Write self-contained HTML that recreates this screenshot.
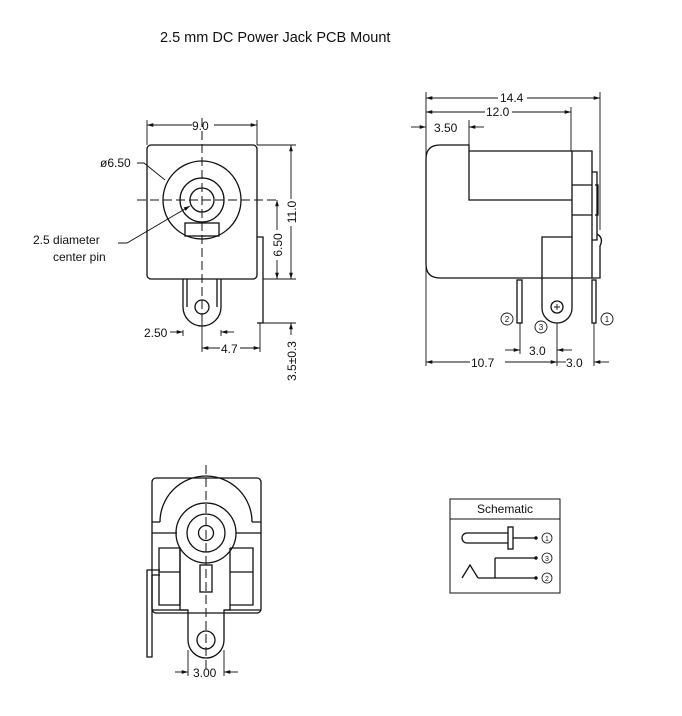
<!DOCTYPE html>
<html><head><meta charset="utf-8"><style>
html,body{margin:0;padding:0;background:#fff;}
svg{display:block;}
text{font-family:"Liberation Sans",sans-serif;fill:#111;}
</style></head><body>
<svg width="682" height="716" viewBox="0 0 682 716" xmlns="http://www.w3.org/2000/svg">
<defs>
<marker id="a" viewBox="0 0 10 10" refX="10" refY="5" markerWidth="7" markerHeight="7" orient="auto-start-reverse"><path d="M0,2 L10,5 L0,8 z" fill="#111"/></marker>
</defs>
<text x="160" y="42" font-size="14.5">2.5 mm DC Power Jack PCB Mount</text>

<g stroke="#111" stroke-width="1.3" fill="none">
<!-- FRONT VIEW -->
<rect x="147" y="145" width="110" height="134" rx="4"/>
<circle cx="202" cy="200" r="39"/>
<circle cx="202" cy="200" r="22"/>
<circle cx="202" cy="200" r="12"/>
<rect x="185" y="223" width="34" height="13"/>
<path d="M257,237 L263,237 L263,323 L257,323"/>
<path d="M183,279 L183,307 A19,19 0 0 0 221,307 L221,279"/>
<path d="M187,279 L187,307 M217,279 L217,307"/>
<circle cx="202" cy="307" r="7"/>
<g stroke-width="1" stroke-dasharray="9,4">
<path d="M137,200 L277,200"/>
<path d="M202,118 L202,322"/>
</g>
<g stroke-width="0.9">
<path d="M147,120 L147,145 M257,120 L257,145"/>
<path d="M147,125 L192,125 M214,125 L257,125" marker-start="url(#a)" marker-end="url(#a)"/>
<path d="M257,145 L296,145 M263,279 L296,279 M263,323 L296,323"/>
<path d="M291,145 L291,199 M291,226 L291,279" marker-start="url(#a)" marker-end="url(#a)"/>
<path d="M277,200 L277,230 M277,260 L277,279" marker-start="url(#a)" marker-end="url(#a)"/>
<path d="M291,335 L291,323" marker-end="url(#a)"/>
<path d="M137,163 L144,163 L165,180"/>
<path d="M118,243 L127,243 L190,206" marker-end="url(#a)"/>
<path d="M183,330 L183,336 M221,330 L221,336 M202,322 L202,352 M260,323 L260,352"/>
<path d="M170,332 L183,332" marker-end="url(#a)"/>
<path d="M234,332 L221,332" marker-end="url(#a)"/>
<path d="M202,348 L220,348 M240,348 L260,348" marker-start="url(#a)" marker-end="url(#a)"/>
</g>

<!-- SIDE VIEW -->
<path d="M440,145 L469,145 L469,200 L572,200 M469,151 L592,151 L592,278 L440,278 Q426,278 426,264 L426,159 Q426,145 440,145"/>
<path d="M572,151 L572,278 M572,185 L592,185 M572,215 L592,215"/>
<path d="M592,172 L597,172 L597,240 L592,240 M595,185 L598,185 L598,215 L595,215"/>
<path d="M597,234 Q604,238 600,246 L600,278 L592,278"/>
<path d="M542,278 L542,237 L572,237 M542,278 L542,308 A15,15 0 0 0 572,308 L572,278"/>
<circle cx="557" cy="307" r="6"/>
<path d="M554,307 L560,307 M557,304 L557,310" stroke-width="0.9"/>
<rect x="517" y="280" width="5" height="43"/>
<rect x="592" y="280" width="4" height="43"/>
<g stroke-width="0.9">
<circle cx="507" cy="319" r="6"/><circle cx="541" cy="327" r="6"/><circle cx="607" cy="319" r="6"/>
<path d="M426,92 L426,366 M600,92 L600,230 M571,107 L571,151 M469,120 L469,145"/>
<path d="M426,98 L498,98 M527,98 L600,98" marker-start="url(#a)" marker-end="url(#a)"/>
<path d="M426,112 L485,112 M512,112 L571,112" marker-start="url(#a)" marker-end="url(#a)"/>
<path d="M411,127 L426,127" marker-end="url(#a)"/>
<path d="M484,127 L469,127" marker-end="url(#a)"/>
<path d="M520,323 L520,354 M557,323 L557,366 M594,323 L594,366"/>
<path d="M505,350 L520,350" marker-end="url(#a)"/>
<path d="M572,350 L557,350" marker-end="url(#a)"/>
<path d="M426,362 L470,362 M505,362 L557,362" marker-start="url(#a)" marker-end="url(#a)"/>
<path d="M557,362 L566,362"/>
<path d="M609,362 L594,362" marker-end="url(#a)"/>
</g>

<!-- BOTTOM VIEW -->
<rect x="152" y="478" width="109" height="135" rx="4"/>
<path d="M160,522 A46,46 0 0 1 252,522"/>
<path d="M152,522 L160,522 M252,522 L261,522 M152,533 L177,533 M236,533 L261,533"/>
<circle cx="206" cy="533" r="30"/>
<circle cx="206" cy="533" r="19"/>
<circle cx="206" cy="533" r="7.5"/>
<path d="M180,548 L180,610 L188,610 L188,640 A18,18 0 0 0 224,640 L224,610 L230,610 L230,548"/>
<path d="M159,548 L180,548 L180,605 L159,605 Z M159,572 L180,572"/>
<path d="M230,548 L253,548 L253,605 L230,605 M230,572 L253,572 M253,548 L253,605"/>
<path d="M152,610 L188,610 M224,610 L261,610"/>
<path d="M160,570 L147,570 L147,657 L152,657 L152,575 L160,575"/>
<circle cx="206" cy="640" r="9"/>
<rect x="200" y="565" width="12" height="27"/>
<path d="M206,465 L206,672" stroke-width="1" stroke-dasharray="9,4"/>
<g stroke-width="0.9">
<path d="M188,650 L188,676 M224,650 L224,676"/>
<path d="M175,672 L188,672" marker-end="url(#a)"/>
<path d="M238,672 L224,672" marker-end="url(#a)"/>
</g>

<!-- SCHEMATIC -->
<rect x="450" y="499" width="110" height="94" stroke-width="1"/>
<path d="M450,519 L560,519" stroke-width="1"/>
<path d="M508,533 L467,533 A5,5 0 0 0 467,543 L508,543"/>
<rect x="508" y="527" width="5" height="22"/>
<path d="M513,538 L535,538 M495,558 L535,558 M495,558 L495,578 M478,578 L535,578 M462,578 L470,565 L478,578"/>
<g stroke-width="0.8"><circle cx="547" cy="538" r="5"/><circle cx="547" cy="558" r="5"/><circle cx="547" cy="578" r="5"/></g>
</g>
<g fill="#111"><circle cx="536" cy="538" r="1.7"/><circle cx="536" cy="558" r="1.7"/><circle cx="536" cy="578" r="1.7"/></g>

<g font-size="12">
<text x="192" y="130">9.0</text>
<text x="100" y="167">ø6.50</text>
<text x="33" y="244">2.5 diameter</text>
<text x="53" y="261">center pin</text>
<text x="144" y="337">2.50</text>
<text x="221" y="353">4.7</text>
<text transform="translate(296,212) rotate(-90)" text-anchor="middle">11.0</text>
<text transform="translate(282,245) rotate(-90)" text-anchor="middle">6.50</text>
<text transform="translate(296,361) rotate(-90)" text-anchor="middle">3.5±0.3</text>
<text x="500" y="102">14.4</text>
<text x="486" y="116">12.0</text>
<text x="434" y="132">3.50</text>
<text x="529" y="355">3.0</text>
<text x="471" y="367">10.7</text>
<text x="566" y="367">3.0</text>
<text x="193" y="677">3.00</text>
<text x="505" y="513" text-anchor="middle" font-size="12">Schematic</text>
</g>
<g font-size="8" text-anchor="middle">
<text x="507" y="322">2</text><text x="541" y="330">3</text><text x="607" y="322">1</text>
<text x="547" y="541" font-size="7">1</text><text x="547" y="561" font-size="7">3</text><text x="547" y="581" font-size="7">2</text>
</g>
</svg>
</body></html>
